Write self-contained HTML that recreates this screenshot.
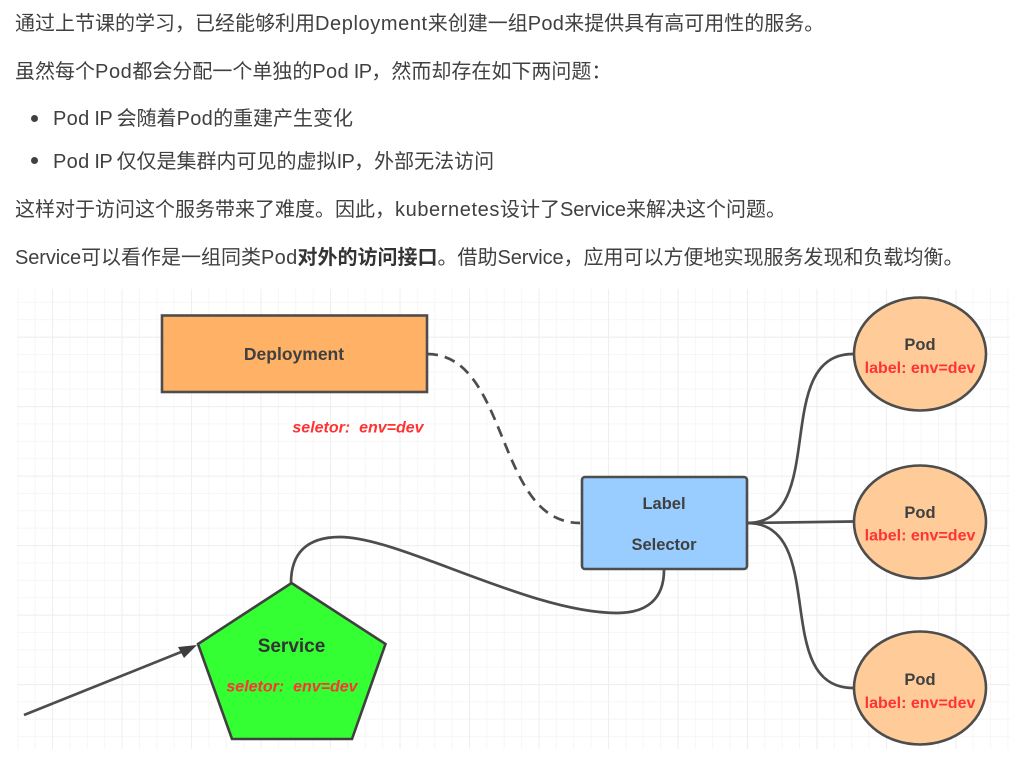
<!DOCTYPE html>
<html lang="zh"><head><meta charset="utf-8">
<style>
html,body{margin:0;padding:0;background:#fff;width:1035px;height:766px;overflow:hidden}
.l{position:absolute;left:15px;white-space:pre;font:20px/28px "Liberation Sans","Noto Sans CJK SC",sans-serif;color:#404040}
.l i{font-style:normal;letter-spacing:.6px}
.l em{font-style:normal;letter-spacing:.3px}
.l u{text-decoration:none;letter-spacing:-.1px}
.l s{text-decoration:none;letter-spacing:-.65px}
.l b{color:#333;font-weight:700}
.d{position:absolute;left:31px;width:7px;height:7px;border-radius:50%;background:#404040}
svg{position:absolute;left:0;top:0;filter:blur(.35px)}
svg text{font-family:"Liberation Sans","Noto Sans CJK SC",sans-serif;text-anchor:middle;font-weight:700}
</style></head><body>
<div class="l" style="top:10px">通过上节课的学习，已经能够利用<i>Deployment</i>来创建一组<em>Pod</em>来提供具有高可用性的服务。</div>
<div class="l" style="top:58px">虽然每个<i>Pod</i>都会分配一个单独的<em>Pod</em><s> IP</s>，然而却存在如下两问题：</div>
<div class="d" style="top:115px"></div>
<div class="l" style="top:105px;left:53px"><em>Pod</em><s> IP </s>会随着<em>Pod</em>的重建产生变化</div>
<div class="d" style="top:157px"></div>
<div class="l" style="top:148px;left:53px"><em>Pod</em><s> IP </s>仅仅是集群内可见的虚拟<s>IP</s>，外部无法访问</div>
<div class="l" style="top:196px">这样对于访问这个服务带来了难度。因此，<i>kubernetes</i>设计了<u>Service</u>来解决这个问题。</div>
<div class="l" style="top:244px"><u>Service</u>可以看作是一组同类<em>Pod</em><b>对外的访问接口</b>。借助<u>Service</u>，应用可以方便地实现服务发现和负载均衡。</div>
<svg width="1035" height="766" viewBox="0 0 1035 766">
<defs>
<pattern id="mi" x="17.4" y="284.5" width="17.37" height="17.37" patternUnits="userSpaceOnUse"><path d="M0 0V17.37M0 0H17.37" stroke="#f5f5f5" stroke-width="1.7" fill="none"/></pattern>
<pattern id="ma" x="52" y="267.2" width="69.5" height="69.5" patternUnits="userSpaceOnUse"><path d="M0 0V69.5M0 0H69.5" stroke="#efefef" stroke-width="2.1" fill="none"/></pattern>
</defs>
<rect x="17" y="289" width="993" height="460" fill="#fff"/>
<rect x="17" y="289" width="993" height="460" fill="url(#mi)"/>
<rect x="17" y="289" width="993" height="460" fill="url(#ma)"/>
<g fill="none" stroke="#4d4d4d" stroke-width="2.7">
<path d="M427 354C510 354 495 523 580 523" stroke-dasharray="11 7"/>
<path d="M747 523C830 523 770 354 853 354"/>
<path d="M747 523L853 521.5"/>
<path d="M747 523C830 523 770 688 853 688"/>
<path d="M291 583C291 555 305 537 340 537C400 537 530 613 617 613C648 613 664 598 664 570"/>
<path d="M24 715L186 650"/>
</g>
<path d="M197 645L178 647L184 658Z" fill="#3d3d3d"/>
<rect x="162" y="315.5" width="265" height="76.5" fill="#ffb266" stroke="#4d4d4d" stroke-width="2.6"/>
<rect x="582" y="477" width="165" height="92" rx="3" fill="#99ccff" stroke="#4d4d4d" stroke-width="2.6"/>
<path d="M291.5 583L385.5 644L352 739H232L198 644Z" fill="#33ff33" stroke="#404040" stroke-width="2.6"/>
<g fill="#ffcc99" stroke="#4d4d4d" stroke-width="2.6">
<ellipse cx="920" cy="354" rx="66" ry="56.5"/>
<ellipse cx="920" cy="522" rx="66" ry="56.5"/>
<ellipse cx="920" cy="688" rx="66" ry="56.5"/>
</g>
<g fill="#404040" font-size="16.5">
<text x="294" y="360" font-size="17.5">Deployment</text>
<text x="664" y="509">Label</text>
<text x="664" y="550">Selector</text>
<text x="920" y="350">Pod</text>
<text x="920" y="518">Pod</text>
<text x="920" y="685">Pod</text>
</g>
<text x="291.5" y="652" fill="#333" font-size="19">Service</text>
<g fill="#ff3333" font-size="16">
<text x="920" y="373">label: env=dev</text>
<text x="920" y="540.5">label: env=dev</text>
<text x="920" y="708">label: env=dev</text>
</g>
<g fill="#ff3333" font-size="16" font-style="italic">
<text x="358" y="432.5">seletor:&#160;&#160;env=dev</text>
<text x="292" y="691.5">seletor:&#160;&#160;env=dev</text>
</g>
</svg>
</body></html>
